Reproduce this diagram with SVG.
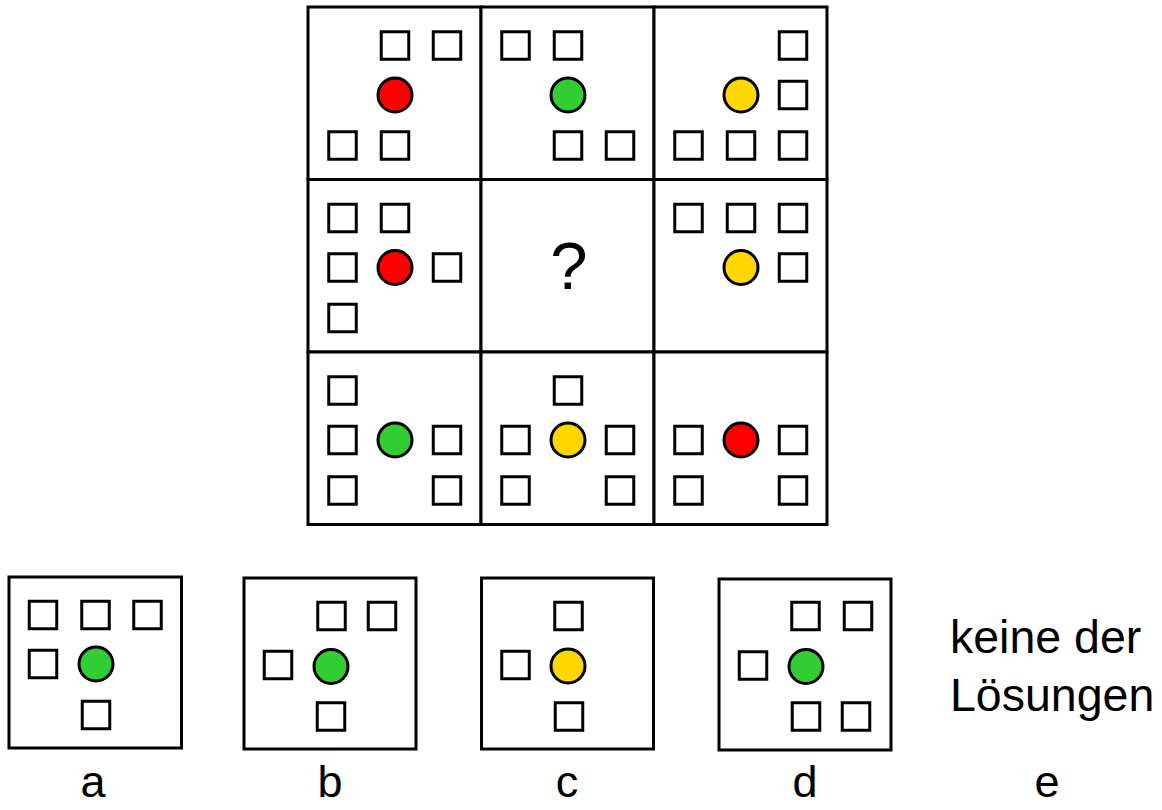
<svg xmlns="http://www.w3.org/2000/svg" xmlns:xlink="http://www.w3.org/1999/xlink" width="1162" height="810" viewBox="0 0 1162 810">
<style>
.cell{fill:#fff;stroke:#000;stroke-width:3}
.sq{fill:#fff;stroke:#000;stroke-width:3}
.dot{stroke:#000;stroke-width:3}
.red{fill:#ff0000}
.green{fill:#32cd32}
.yellow{fill:#ffd700}
.lbl{font-family:"Liberation Sans",Arial,sans-serif;font-size:45px;fill:#000}
.big{font-size:46.5px}
</style>
<defs>
<rect id="s" x="-13.75" y="-13.75" width="27.5" height="27.5" class="sq"/>
</defs>
<rect width="1162" height="810" fill="#fff"/>
<g id="connectors"/>
<!-- row 1 -->
<g id="c11" transform="translate(308,7)">
<rect class="cell" width="173" height="172.5"/>
<use href="#s" x="87" y="38.5"/><use href="#s" x="139" y="38.5"/>
<circle class="dot red" cx="87" cy="88" r="17"/>
<use href="#s" x="34.5" y="138.5"/><use href="#s" x="87" y="138.5"/>
</g>
<g id="c12" transform="translate(481,7)">
<rect class="cell" width="173" height="172.5"/>
<use href="#s" x="34.5" y="38.5"/><use href="#s" x="87" y="38.5"/>
<circle class="dot green" cx="87" cy="88" r="17"/>
<use href="#s" x="87" y="138.5"/><use href="#s" x="139" y="138.5"/>
</g>
<g id="c13" transform="translate(654,7)">
<rect class="cell" width="173" height="172.5"/>
<use href="#s" x="139" y="38.5"/>
<circle class="dot yellow" cx="87" cy="88" r="17"/>
<use href="#s" x="139" y="88"/>
<use href="#s" x="34.5" y="138.5"/><use href="#s" x="87" y="138.5"/><use href="#s" x="139" y="138.5"/>
</g>
<!-- row 2 -->
<g id="c21" transform="translate(308,179.5)">
<rect class="cell" width="173" height="172.5"/>
<use href="#s" x="34.5" y="38.5"/><use href="#s" x="87" y="38.5"/>
<use href="#s" x="34.5" y="88"/>
<circle class="dot red" cx="87" cy="88" r="17"/>
<use href="#s" x="139" y="88"/>
<use href="#s" x="34.5" y="138.5"/>
</g>
<g id="c22" transform="translate(481,179.5)">
<rect class="cell" width="173" height="172.5"/>
<text x="88" y="109.5" text-anchor="middle" font-family="Liberation Sans, Arial, sans-serif" font-size="67">?</text>
</g>
<g id="c23" transform="translate(654,179.5)">
<rect class="cell" width="173" height="172.5"/>
<use href="#s" x="34.5" y="38.5"/><use href="#s" x="87" y="38.5"/><use href="#s" x="139" y="38.5"/>
<circle class="dot yellow" cx="87" cy="88" r="17"/>
<use href="#s" x="139" y="88"/>
</g>
<!-- row 3 -->
<g id="c31" transform="translate(308,352)">
<rect class="cell" width="173" height="172.5"/>
<use href="#s" x="34.5" y="38.5"/>
<use href="#s" x="34.5" y="88"/>
<circle class="dot green" cx="87" cy="88" r="17"/>
<use href="#s" x="139" y="88"/>
<use href="#s" x="34.5" y="138.5"/><use href="#s" x="139" y="138.5"/>
</g>
<g id="c32" transform="translate(481,352)">
<rect class="cell" width="173" height="172.5"/>
<use href="#s" x="87" y="38.5"/>
<use href="#s" x="34.5" y="88"/>
<circle class="dot yellow" cx="87" cy="88" r="17"/>
<use href="#s" x="139" y="88"/>
<use href="#s" x="34.5" y="138.5"/><use href="#s" x="139" y="138.5"/>
</g>
<g id="c33" transform="translate(654,352)">
<rect class="cell" width="173" height="172.5"/>
<use href="#s" x="34.5" y="88"/>
<circle class="dot red" cx="87" cy="88" r="17"/>
<use href="#s" x="139" y="88"/>
<use href="#s" x="34.5" y="138.5"/><use href="#s" x="139" y="138.5"/>
</g>
<!-- answers -->
<g id="ans_a" transform="translate(9,577)">
<rect class="cell" width="172.5" height="171"/>
<use href="#s" x="34" y="38"/><use href="#s" x="86.5" y="38"/><use href="#s" x="138.5" y="38"/>
<use href="#s" x="34" y="87"/>
<circle class="dot green" cx="87" cy="87" r="17"/>
<use href="#s" x="87" y="138"/>
</g>
<g id="ans_b" transform="translate(244,578)">
<rect class="cell" width="172" height="171"/>
<use href="#s" x="87.5" y="38"/><use href="#s" x="138" y="38"/>
<use href="#s" x="34" y="87"/>
<circle class="dot green" cx="87" cy="88.5" r="17"/>
<use href="#s" x="87" y="138.5"/>
</g>
<g id="ans_c" transform="translate(481.5,578)">
<rect class="cell" width="172" height="171"/>
<use href="#s" x="87" y="38"/>
<use href="#s" x="34" y="87"/>
<circle class="dot yellow" cx="86.5" cy="88" r="17"/>
<use href="#s" x="87.5" y="138.5"/>
</g>
<g id="ans_d" transform="translate(719,579)">
<rect class="cell" width="172" height="171"/>
<use href="#s" x="86.5" y="37"/><use href="#s" x="139" y="37"/>
<use href="#s" x="34" y="86.5"/>
<circle class="dot green" cx="87" cy="87.5" r="17"/>
<use href="#s" x="87" y="137.5"/><use href="#s" x="137" y="137.5"/>
</g>
<g id="labels">
<text class="lbl" x="93" y="797" text-anchor="middle">a</text>
<text class="lbl" x="330" y="797" text-anchor="middle">b</text>
<text class="lbl" x="567" y="797" text-anchor="middle">c</text>
<text class="lbl" x="805" y="797" text-anchor="middle">d</text>
<text class="lbl" x="1047" y="797" text-anchor="middle">e</text>
<text class="lbl big" x="950" y="653">keine der</text>
<text class="lbl big" x="950" y="711">Lösungen</text>
</g>
</svg>
